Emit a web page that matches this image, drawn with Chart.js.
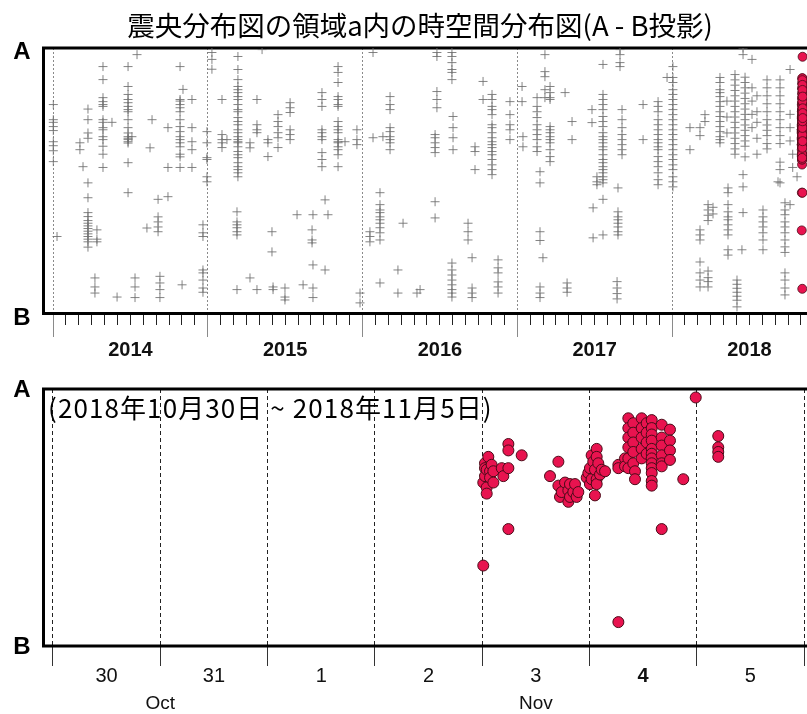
<!DOCTYPE html>
<html>
<head>
<meta charset="utf-8">
<script src="https://cdn.jsdelivr.net/npm/chart.js@4.4.0/dist/chart.umd.min.js"></script>
<style>
  html, body { margin: 0; padding: 0; background: #fff; overflow: hidden; width: 807px; height: 714px; }
  #wrap { position: relative; width: 840px; height: 714px; }
  #topChart { position: absolute; left: 0; top: 0; }
  #bottomChart { position: absolute; left: 0; top: 364px; }
  #period { position: absolute; left: 48px; top: 394px; font-family: 'Noto Sans CJK JP'; font-size: 26px;
            line-height: 26px; letter-spacing: 1.1px; color: #000; white-space: nowrap; }
</style>
</head>
<body>
<div id="wrap">
  <canvas id="topChart" width="840" height="360"></canvas>
  <canvas id="bottomChart" width="840" height="350"></canvas>
  <div id="period">(2018年10月30日 ~ 2018年11月5日)</div>
</div>
<script>
// 上段：2014〜2018年の震源（A-B投影）
// [年(小数), [Aからの位置(0=A, 100=B) ...]]
const cross2014 = [
  [2014.002, [21.3, 27, 28, 29.6, 31.1, 35.3, 36.8, 38.7, 42.8]],
  [2014.026, [71]],
  [2014.174, [35.7, 38.3]],
  [2014.194, [44.7]],
  [2014.226, [23, 27, 32, 34, 50.8, 56.4, 62, 63.5, 65, 66, 67, 68, 69, 70, 71, 72, 73, 75]],
  [2014.284, [68.5, 72, 73]],
  [2014.271, [86.6, 90, 92.3]],
  [2014.323, [7, 11.9, 18.7, 20.2, 21.3, 22, 27, 28, 30, 30.8, 33.4, 34.5, 37, 40, 45]],
  [2014.381, [28]],
  [2014.414, [93.8]],
  [2014.485, [7, 14.5, 17.5, 19.4, 20.6, 22, 23.2, 24, 27, 30, 32, 33.4, 34, 34.5, 35.3, 35.8, 43.2, 54.5]],
  [2014.51, [33.4]],
  [2014.543, [2.5]],
  [2014.53, [86.6, 90, 94]],
  [2014.64, [27]],
  [2014.627, [37.6]],
  [2014.607, [67.8]],
  [2014.679, [57, 63.6, 65.5, 67.4, 69.2]],
  [2014.691, [86, 88.5, 91, 94]],
  [2014.743, [30, 45, 56]],
  [2014.821, [7, 19.4, 20, 21.3, 22.5, 24, 27, 29.6, 31.5, 33.4, 34.5, 35.7, 37.2, 40, 41, 45]],
  [2014.84, [15.6]],
  [2014.834, [89.2]],
  [2014.898, [19.4, 30, 35.3, 38.3, 45]],
  [2014.969, [66.6, 69.6, 71, 83.6, 84.7, 87.4, 90.4, 92]],
  [2014.995, [31.5, 35.7, 41.3, 42, 48.5, 50.4]]
];
const cross2015 = [
  [2015.027, [1.7, 4.3, 8]],
  [2015.092, [19.4, 32.6, 34.5, 35.7, 37.5]],
  [2015.124, [34.5]],
  [2015.195, [3.2, 8.1, 11.9, 14.5, 15.7, 16.8, 18.3, 19.4, 21.3, 23.2, 24, 26.2, 27.7, 28.9, 30.8, 31.9, 33.4, 34.5, 35.3, 35.7, 37.2, 39, 40.2, 41.3, 43.2, 44.7, 45.8, 47, 48.5]],
  [2015.189, [61.7, 65.5, 66.6, 67.7, 69.2, 70.4, 91]],
  [2015.273, [35.7, 37.6, 86.6]],
  [2015.318, [19.4, 28.9, 30.8, 31.9, 91]],
  [2015.351, [0.6]],
  [2015.389, [34.5, 35.7, 40.9]],
  [2015.415, [69.2, 76.8]],
  [2015.422, [90, 91]],
  [2015.454, [25.1, 27.7, 29.6, 31.9, 33.8, 37.5]],
  [2015.499, [90.4, 93.8, 94.9]],
  [2015.532, [20.6, 22.5, 24.3, 30.8, 32.6, 34.5]],
  [2015.577, [62.8]],
  [2015.616, [89.2]],
  [2015.674, [68.5, 72.3, 73.4]],
  [2015.68, [62.8, 81.7, 90.4, 94]],
  [2015.738, [16.8, 19.4, 22, 30.8, 31.9, 33.4, 34.5, 39.4, 42, 44.7]],
  [2015.758, [57.2, 83.6]],
  [2015.777, [62.8]],
  [2015.842, [7, 9.2, 13, 18.3, 19.4, 21.3, 22, 27.7, 29.6, 30.8, 31.9, 34.5, 35.3, 35.7, 37.2, 38.3, 40.2, 44.7]],
  [2015.887, [35.3]],
  [2015.964, [30.8, 34.5, 36.4]],
  [2015.984, [92.3, 96]]
];
const cross2016 = [
  [2016.068, [1.7, 33.8]],
  [2016.048, [69.2, 71, 73]],
  [2016.113, [54.5, 59, 61, 62, 63.6, 64.7, 66, 67.7, 69.6, 72.3, 88.5]],
  [2016.132, [33.4]],
  [2016.178, [18.3, 21.3, 23.2, 30, 31.5, 33.4, 34.5, 35.7, 38.3]],
  [2016.229, [83.6, 92.3]],
  [2016.262, [66]],
  [2016.352, [92.3]],
  [2016.372, [91]],
  [2016.469, [32.6, 33.8, 35.7, 37.5, 39.4, 57.9, 64]],
  [2016.481, [1.7, 3.2, 16.4, 19.4, 22.5]],
  [2016.578, [1.7, 3.2, 5.5, 8.1, 9.2, 11.9, 81, 83.6, 85.5, 87.4, 89.2, 91, 92.3, 93.8]],
  [2016.585, [25.8, 30, 33.8, 38.3]],
  [2016.682, [66, 69.2, 72.3]],
  [2016.708, [79, 90.4, 92.3, 94]],
  [2016.727, [37.2, 39, 45.8]],
  [2016.779, [12.6, 19.4]],
  [2016.837, [17.5, 19.4, 22, 23.2, 25.1, 28.9, 30, 31.9, 33.8, 35.3, 36.4, 37.5, 39, 40.2, 42, 44, 45.8, 47.7]],
  [2016.876, [79.8, 82.8, 84.7, 88.1, 90, 92.3]],
  [2016.953, [20.2, 25.1, 28.9, 30.8, 34.5]]
];
const cross2017 = [
  [2017.031, [14.5, 20.2]],
  [2017.037, [33.4, 37.2]],
  [2017.128, [18.7, 22, 24, 26.2, 28.9, 30.8, 32.6, 34.5, 37.2, 39]],
  [2017.147, [46.6, 50.8, 69.2, 72.5, 90, 92.3, 94]],
  [2017.166, [79]],
  [2017.179, [2.5, 8.9, 10.8, 15.7, 18.7]],
  [2017.212, [14.5, 16.8, 18.7, 19.4, 29.6, 30.8, 31.9, 33.4, 34.5, 35.7, 38.3, 40.9, 42.8]],
  [2017.309, [16.8]],
  [2017.322, [88.5, 90.4, 92]],
  [2017.354, [27.7, 34.5]],
  [2017.483, [23.2, 28.1]],
  [2017.49, [60.2, 71.5]],
  [2017.515, [48.5, 50.4, 51.5]],
  [2017.554, [6.2, 17.5, 19.4, 21.3, 23.2, 25.8, 27.7, 29.6, 31.9, 33.4, 34.5, 35.7, 37.2, 38.3, 40.2, 42, 43.2, 44.7, 45.8, 47, 48.5, 49.6, 50.8, 57, 70.4]],
  [2017.645, [88, 90.4, 92.5, 94.5]],
  [2017.651, [52.7, 61.7, 63.6, 64.7, 66, 67.4, 69.2, 70.4]],
  [2017.664, [0.6, 2.5, 5.5, 7]],
  [2017.677, [23.2, 27, 30, 32.6, 34.5, 36.4, 38.3, 40.2]],
  [2017.813, [21.3, 34.5]],
  [2017.91, [20.2, 22, 24, 27, 28.9, 30.8, 32.6, 34.5, 35.7, 37.2, 38.3, 40.9, 42.8, 44.7, 47, 49.6, 51.5]],
  [2017.968, [11.1]]
];
const cross2018 = [
  [2018.006, [7, 11.1, 13, 15.7, 17.5, 19.4, 21.3, 23.2, 25.1, 27, 28.9, 30.8, 32.6, 34.5, 36.4, 38.3, 40.2, 42, 44, 45.8, 48.5, 50.4, 52.3]],
  [2018.116, [30, 38.3]],
  [2018.181, [30, 33, 68.5, 70.4, 72.3, 80.6, 84.7, 87.4, 90]],
  [2018.213, [25.1, 27.7]],
  [2018.233, [59, 61, 63, 65, 84, 86.5, 88, 90]],
  [2018.265, [60, 62.5]],
  [2018.31, [11.1, 13, 15.7, 16.8, 18.3, 20.2, 22, 24, 25.8, 27.7, 29.6, 31.5, 33.4, 34.5, 35.7]],
  [2018.355, [20, 26, 32]],
  [2018.362, [52.7, 54.5, 59, 61.7, 63.6, 64.7, 66.6, 68.5, 70.4, 76, 78]],
  [2018.407, [10, 12, 14, 16, 18, 20, 22, 24, 26, 28, 30, 32, 34, 36, 38, 40]],
  [2018.42, [87.4, 89, 90.5, 92, 93.5, 95, 97.5]],
  [2018.452, [76]],
  [2018.459, [0, 2.5, 47.7, 52.3, 62]],
  [2018.472, [11, 13, 15, 17, 19, 21, 23, 25, 27, 29, 31, 33, 35, 37, 41]],
  [2018.517, [4.3, 15, 20, 25, 30]],
  [2018.549, [18, 24, 28, 34, 40]],
  [2018.588, [61, 63.6, 65.5, 67.4, 69.6, 72.3, 76]],
  [2018.614, [12, 15, 18, 21, 24, 27, 29, 31, 33, 36, 38]],
  [2018.685, [50.4]],
  [2018.698, [12, 15, 18, 21, 24, 27, 30, 33, 36, 43, 45.8, 50.8]],
  [2018.73, [58.3, 61, 62.8, 65.5, 67.4, 69.6, 72.3, 74.9, 77, 84.7, 87.4, 90.4, 93]],
  [2018.763, [8.1, 25, 30, 35, 59]],
  [2018.78, [40, 45]],
  [2018.808, [48.5]]
];

// 下段：2018年10月30日0時からの日数, [位置 ...]
const quakeNov3 = [
  [4.01, [68.7, 36.4]],
  [4.026, [28.9, 30.8, 33.9]],
  [4.042, [31.4, 38.3, 40.7]],
  [4.057, [26.4]],
  [4.073, [32, 34.5]],
  [4.088, [29.5]],
  [4.104, [32, 36.4]],
  [4.182, [30.8]],
  [4.197, [33.9]],
  [4.244, [21.4, 23.9, 30.8, 54.5]],
  [4.368, [25.8]],
  [4.632, [33.9]],
  [4.71, [28.3, 37.6]],
  [4.725, [42]],
  [4.741, [40.1]],
  [4.772, [36.4]],
  [4.803, [39.5, 43.9]],
  [4.818, [37, 42]],
  [4.849, [40.1]],
  [4.865, [37]],
  [4.88, [42]],
  [4.896, [40.1]],
  [4.974, [34.5]],
  [4.989, [32.7]]
];
const quakeNov4 = [
  [5.004, [30.8, 37]],
  [5.02, [25.8, 35.1]],
  [5.035, [28.3]],
  [5.051, [31.4, 41.4]],
  [5.067, [23.3, 26.4, 35.1, 37]],
  [5.082, [28.9]],
  [5.098, [33.3]],
  [5.114, [31.4]],
  [5.145, [32]],
  [5.269, [29.5, 30.8, 90.7]],
  [5.331, [27, 30.1]],
  [5.362, [11.4, 15.2, 18.9, 22.7, 27, 30.8]],
  [5.408, [13.3, 17, 20.8, 24.5, 28.9]],
  [5.424, [32, 35.1]],
  [5.486, [11.4, 15.2, 18.9, 23.3, 27]],
  [5.533, [13.3, 17, 20.8, 25.2]],
  [5.58, [12.1, 15.2, 17.7, 20.1, 23.3, 25.2, 27, 28.9, 30.8, 32.7, 35.8, 37.6]],
  [5.673, [13.9, 18.9, 22, 25.8, 28.9, 30.1, 54.5]],
  [5.75, [15.8, 20.1, 23.9, 27.6]],
  [5.874, [35.1]],
  [5.99, [3.3]]
];
const quakeNov5 = [
  [6.2, [18.3, 22.7, 24.5, 26.4]]
];

const yearTicks = [2014, 2015, 2016, 2017, 2018];
const dayTicks = [0, 1, 2, 3, 4, 5, 6, 7];
const dayLabels = ['30', '31', '1', '2', '3', '4', '5', ''];
const monthLabels = ['Oct', 'Nov'];
const monthPos = [1.0, 4.5];
const oct30DayOfYear = 302;

const TITLE = '震央分布図の領域a内の時空間分布図(A - B投影)';
const LABEL_FONT = '"Liberation Sans", Arial, sans-serif';

// 軸の範囲（上段は年、下段は10/30からの日数）
const topMin = 2013.9386, topMax = 2019.0856;
const dayMin = -0.0885, dayMax = 7.3346;

function toPoints(cols) {
  const pts = [];
  cols.forEach(function (c) {
    c[1].forEach(function (p) { pts.push({ x: c[0], y: p }); });
  });
  return pts;
}

const grayPts = toPoints([].concat(cross2014, cross2015, cross2016, cross2017, cross2018));
const redPts = toPoints([].concat(quakeNov3, quakeNov4, quakeNov5));
// 同じ震源を上段の年軸に置く
const redTop = redPts.map(function (p) { return { x: 2018 + (oct30DayOfYear + p.x) / 365, y: p.y }; });

// 月ごとの小さい目盛
const monthTicks = [];
for (let yr = 2013; yr <= 2019; yr++) {
  for (let m = 1; m < 12; m++) {
    const v = yr + m / 12;
    if (v > topMin && v < topMax) monthTicks.push(v);
  }
}

// 枠線
const framePlugin = {
  id: 'frame',
  beforeDatasetsDraw(chart) {
    const a = chart.chartArea, ctx = chart.ctx;
    ctx.save();
    ctx.lineWidth = 3;
    ctx.strokeStyle = '#000';
    ctx.strokeRect(a.left, a.top, a.right - a.left, a.bottom - a.top);
    ctx.restore();
  }
};

function yAxis(offset) {
  return {
    type: 'linear', reverse: true, min: 0, max: 100,
    afterBuildTicks: function (s) { s.ticks = [{ value: 0 }, { value: 100 }]; },
    afterFit: function (s) { s.width = 43.5; },
    grid: { display: false, drawTicks: false },
    border: { display: false },
    ticks: {
      padding: 13, labelOffset: offset, color: '#000',
      font: { family: LABEL_FONT, size: 24, weight: 'bold', lineHeight: 1 },
      callback: function (v) { return v === 0 ? 'A' : 'B'; }
    }
  };
}

new Chart(document.getElementById('topChart'), {
  type: 'scatter',
  data: {
    datasets: [
      { label: '2018/10/30-11/5', data: redTop, pointStyle: 'circle', pointRadius: 4.5,
        backgroundColor: '#e8134f', borderColor: '#4a0b18', borderWidth: 0.8, order: 0 },
      { label: '震源', data: grayPts, pointStyle: 'cross', pointRadius: 4.5,
        borderColor: 'rgba(110,110,110,0.85)', borderWidth: 1, order: 1 }
    ]
  },
  options: {
    responsive: false,
    animation: false,
    layout: { padding: 0, autoPadding: false },
    plugins: {
      legend: { display: false },
      tooltip: { enabled: false },
      title: {
        display: true, text: TITLE, color: '#000',
        font: { family: "'Noto Sans CJK JP'", size: 27.5, weight: 'normal', lineHeight: 1.2 },
        padding: { top: 9, bottom: 6 }
      }
    },
    scales: {
      x: {
        type: 'linear', position: 'bottom', min: topMin, max: topMax,
        afterBuildTicks: function (s) { s.ticks = yearTicks.map(function (v) { return { value: v }; }); },
        afterFit: function (s) { s.height = 46.5; },
        grid: { color: '#8a8a8a', lineWidth: 1, tickLength: 23.5, tickColor: '#8a8a8a', tickBorderDash: [] },
        border: { display: false, dash: [2, 2] },
        ticks: {
          autoSkip: false, maxRotation: 0, labelOffset: 77.4, padding: 3, color: '#111',
          font: { family: LABEL_FONT, size: 20, weight: 'bold', lineHeight: 1 },
          callback: function (v) { return String(v); }
        }
      },
      xm: {
        type: 'linear', axis: 'x', position: { y: 100 }, min: topMin, max: topMax,
        afterBuildTicks: function (s) { s.ticks = monthTicks.map(function (v) { return { value: v }; }); },
        grid: { drawOnChartArea: false, tickLength: 11, tickColor: '#222', lineWidth: 1 },
        border: { display: false },
        ticks: { display: false, autoSkip: false }
      },
      y: yAxis(4.5)
    }
  },
  plugins: [framePlugin]
});

new Chart(document.getElementById('bottomChart'), {
  type: 'scatter',
  data: {
    datasets: [
      { label: '2018/10/30-11/5', data: redPts, pointStyle: 'circle', pointRadius: 5.5,
        backgroundColor: '#e8134f', borderColor: '#4a0b18', borderWidth: 1 }
    ]
  },
  options: {
    responsive: false,
    animation: false,
    layout: { padding: { left: 0, right: 0, top: 15.5, bottom: 0 }, autoPadding: false },
    plugins: { legend: { display: false }, tooltip: { enabled: false } },
    scales: {
      x: {
        type: 'linear', position: 'bottom', weight: 0, min: dayMin, max: dayMax,
        afterBuildTicks: function (s) { s.ticks = dayTicks.map(function (v) { return { value: v }; }); },
        afterFit: function (s) { s.height = 43; },
        grid: { color: '#222', lineWidth: 1, tickLength: 20, tickColor: '#333', tickBorderDash: [] },
        border: { display: false, dash: [4, 3] },
        ticks: {
          autoSkip: false, maxRotation: 0, labelOffset: 53.6, padding: 0, color: '#111',
          font: function (ctx) {
            return { family: LABEL_FONT, size: 20, lineHeight: 1,
                     weight: ctx.tick && ctx.tick.value === 5 ? 'bold' : 'normal' };
          },
          callback: function (v, i) { return dayLabels[i]; }
        }
      },
      xmon: {
        type: 'linear', axis: 'x', position: 'bottom', weight: 1, min: dayMin, max: dayMax,
        afterBuildTicks: function (s) { s.ticks = monthPos.map(function (v) { return { value: v }; }); },
        afterFit: function (s) { s.height = 25; },
        grid: { display: false, drawTicks: false },
        border: { display: false },
        ticks: {
          autoSkip: false, maxRotation: 0, padding: 5, color: '#111',
          font: { family: LABEL_FONT, size: 19, lineHeight: 1 },
          callback: function (v, i) { return monthLabels[i]; }
        }
      },
      y: yAxis(1)
    }
  },
  plugins: [framePlugin]
});
</script>
</body>
</html>
